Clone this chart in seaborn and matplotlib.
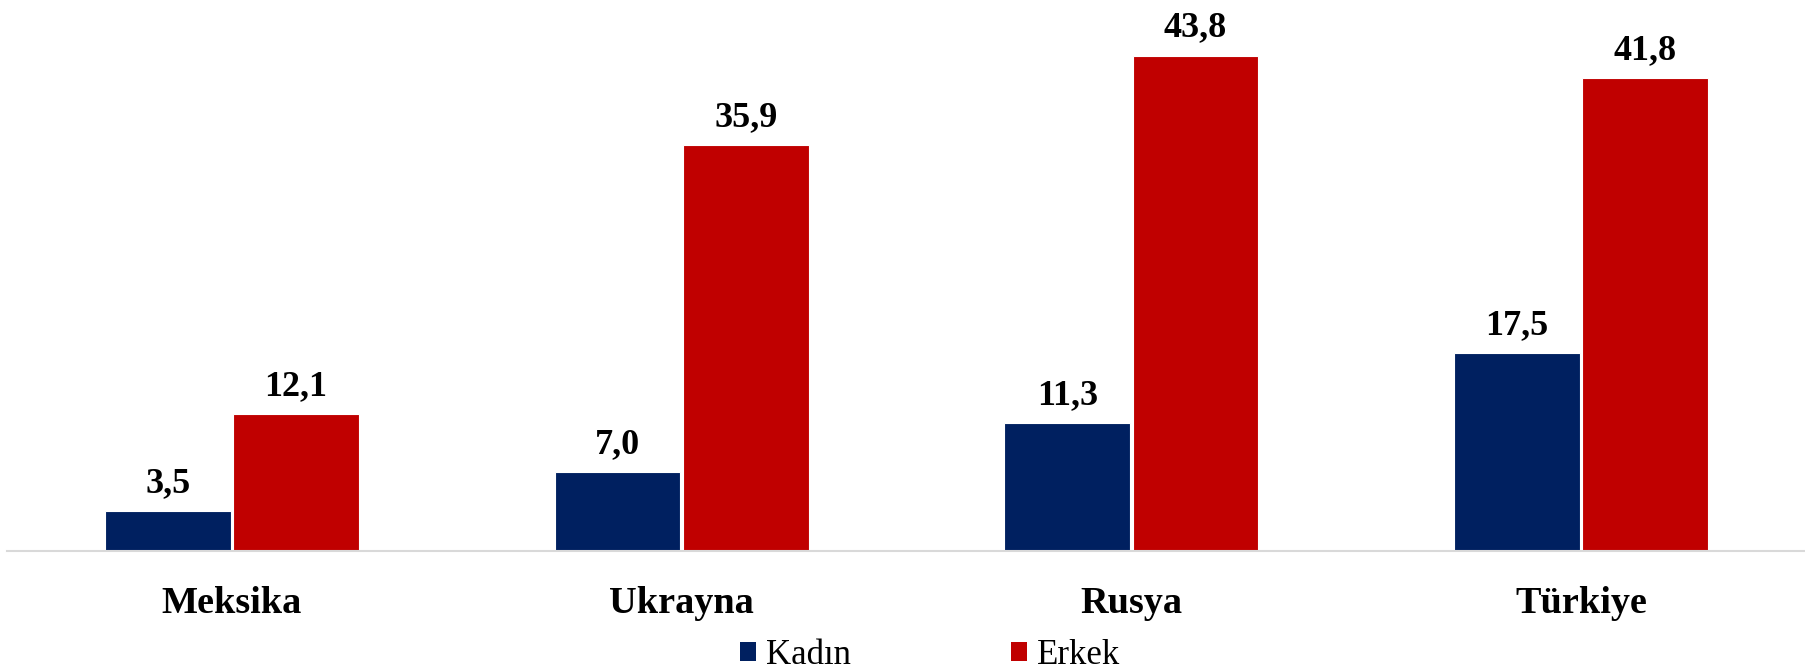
import pandas as pd
import numpy as np
import matplotlib
matplotlib.use("Agg")
import matplotlib.pyplot as plt
from matplotlib.patches import Patch
import seaborn as sns

# data
countries = ["Meksika", "Ukrayna", "Rusya", "Türkiye"]
kadin = [3.5, 7.0, 11.3, 17.5]
erkek = [12.1, 35.9, 43.8, 41.8]
series = ["Kadın", "Erkek"]
colors = ["#002060", "#C00000"]

df = pd.DataFrame({
    "ulke": countries * 2,
    "cinsiyet": [series[0]] * len(kadin) + [series[1]] * len(erkek),
    "deger": kadin + erkek,
})

sns.set_style("white")
plt.rcParams["font.family"] = ["Liberation Serif", "DejaVu Serif"]
plt.rcParams["text.color"] = "black"
plt.rcParams["xtick.color"] = "black"

fig = plt.figure(figsize=(18.06, 6.72), dpi=100)
ax = fig.add_axes([7 / 1806, 121 / 672, 1 - 7 / 1806, 543 / 672])

sns.barplot(data=df, x="ulke", y="deger", hue="cinsiyet", hue_order=series,
            palette=colors, width=0.57, gap=0.02, saturation=1,
            edgecolor="white", linewidth=0.8, legend=False, ax=ax)

for cont in ax.containers:
    labels = [f"{v:.1f}".replace(".", ",") for v in cont.datavalues]
    ax.bar_label(cont, labels=labels, padding=8, fontsize=26,
                 fontweight="bold", color="black")

ax.set_xlim(-0.5, 3.5)
ax.set_ylim(0, 48)
ax.set_xlabel("")
ax.set_ylabel("")
ax.set_yticks([])
for s in ["top", "right", "left"]:
    ax.spines[s].set_visible(False)
ax.spines["bottom"].set_color("#D9D9D9")
ax.spines["bottom"].set_linewidth(1.5)
ax.tick_params(axis="x", length=0, pad=25, labelsize=27.5, labelcolor="black")
for t in ax.get_xticklabels():
    t.set_fontweight("bold")

handles = [Patch(facecolor=c, edgecolor="none") for c in colors]
fig.legend(handles, series, loc="center", bbox_to_anchor=(930 / 1806, 1 - 655 / 672),
           ncol=2, frameon=False, fontsize=25, handlelength=0.46, handleheight=0.46,
           handletextpad=0.3, columnspacing=4.6, labelcolor="black")

fig.savefig("out.png", dpi=100)
